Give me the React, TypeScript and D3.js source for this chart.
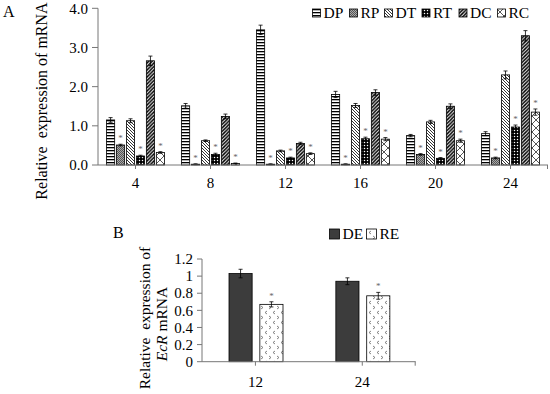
import * as d3 from "d3";

// Panel A data
const hours = ["4", "8", "12", "16", "20", "24"];
const seriesA = ["DP", "RP", "DT", "RT", "DC", "RC"];
const dpValues = [1.15, 1.51, 3.45, 1.8, 0.75, 0.8];
const rpValues = [0.51, 0.02, 0.02, 0.02, 0.27, 0.18];
const dtValues = [1.13, 0.62, 0.36, 1.52, 1.1, 2.3];
const rtValues = [0.23, 0.27, 0.18, 0.67, 0.17, 0.97];
const dcValues = [2.66, 1.24, 0.55, 1.85, 1.5, 3.3];
const rcValues = [0.32, 0.04, 0.29, 0.66, 0.62, 1.35];
const dpErr = [0.06, 0.06, 0.12, 0.08, 0.03, 0.05];
const rpErr = [0.02, 0.01, 0.01, 0.01, 0.02, 0.02];
const dtErr = [0.05, 0.02, 0.02, 0.05, 0.04, 0.1];
const rtErr = [0.02, 0.03, 0.02, 0.04, 0.02, 0.05];
const dcErr = [0.12, 0.06, 0.03, 0.07, 0.06, 0.13];
const rcErr = [0.02, 0.01, 0.02, 0.04, 0.04, 0.08];
const starredA = ["RP", "RT", "RC"];
const yTicksA = [0, 1, 2, 3, 4];

// Panel B data
const hoursB = ["12", "24"];
const seriesB = ["DE", "RE"];
const deValues = [1.03, 0.94];
const reValues = [0.67, 0.77];
const deErr = [0.05, 0.04];
const reErr = [0.03, 0.04];
const starredB = ["RE"];
const yTicksB = [0, 0.2, 0.4, 0.6, 0.8, 1, 1.2];

const valuesA: Record<string, number[]> = {
  DP: dpValues, RP: rpValues, DT: dtValues, RT: rtValues, DC: dcValues, RC: rcValues,
};
const errA: Record<string, number[]> = {
  DP: dpErr, RP: rpErr, DT: dtErr, RT: rtErr, DC: dcErr, RC: rcErr,
};
const valuesB: Record<string, number[]> = { DE: deValues, RE: reValues };
const errB: Record<string, number[]> = { DE: deErr, RE: reErr };

const fillOf: Record<string, string> = {
  DP: "url(#pDP)", RP: "url(#pRP)", DT: "url(#pDT)", RT: "url(#pRT)",
  DC: "url(#pDC)", RC: "url(#pRC)", DE: "#3c3c3c", RE: "url(#pRE)",
};

const font = "'Liberation Serif', 'Times New Roman', serif";
const axisColor = "#777";

function Patterns() {
  return (
    <defs>
      <pattern id="pDP" width="4" height="3" patternUnits="userSpaceOnUse">
        <rect width="4" height="3" fill="#fff" />
        <rect width="4" height="1.3" fill="#000" />
      </pattern>
      <pattern id="pRP" width="2" height="2" patternUnits="userSpaceOnUse">
        <rect width="2" height="2" fill="#a8a8a8" />
        <rect width="1" height="1" fill="#555" />
        <rect x="1" y="1" width="1" height="1" fill="#555" />
      </pattern>
      <pattern id="pDT" width="3" height="3" patternUnits="userSpaceOnUse">
        <rect width="3" height="3" fill="#fff" />
        <path d="M0,0L3,3M-1,2L1,4M2,-1L4,1" stroke="#000" strokeWidth="0.8" />
      </pattern>
      <pattern id="pRT" width="3" height="3" patternUnits="userSpaceOnUse">
        <rect width="3" height="3" fill="#000" />
        <circle cx="1.5" cy="1.5" r="0.75" fill="#fff" />
      </pattern>
      <pattern id="pDC" width="3.5" height="3.5" patternUnits="userSpaceOnUse">
        <rect width="3.5" height="3.5" fill="#fff" />
        <path d="M0,3.5L3.5,0M-1,1L1,-1M2.5,4.5L4.5,2.5" stroke="#000" strokeWidth="1.5" />
      </pattern>
      <pattern id="pRC" width="8" height="8" patternUnits="userSpaceOnUse">
        <rect width="8" height="8" fill="#fff" />
        <path d="M0,0L8,8M8,0L0,8" stroke="#444" strokeWidth="0.9" />
      </pattern>
      <pattern id="pRE" width="8" height="10" patternUnits="userSpaceOnUse">
        <rect width="8" height="10" fill="#fff" />
        <path d="M3,1L1,2.5L3,4M5,6L7,7.5L5,9" stroke="#666" strokeWidth="0.8" fill="none" />
      </pattern>
    </defs>
  );
}

function Legend({ items, x0, y, size, fontSize, widths, gap }: {
  items: string[]; x0: number; y: number; size: number; fontSize: number; widths: number[]; gap: number;
}) {
  let x = x0;
  return (
    <g>
      {items.map((s, i) => {
        const gx = x;
        x += size + 3 + widths[i] + gap;
        return (
          <g key={s}>
            <rect x={gx} y={y - size / 2} width={size} height={size} fill={fillOf[s]} stroke="#000" strokeWidth={0.8} />
            <text x={gx + size + 3} y={y} dy="0.35em" fontSize={fontSize} fontFamily={font}>{s}</text>
          </g>
        );
      })}
    </g>
  );
}

export default function App() {
  // ----- Panel A scales
  const xA = d3.scaleBand().domain(hours).range([98, 548]);
  const innerA = d3.scaleBand().domain(seriesA).range([8.5, 66.5]).paddingInner(0.18);
  const yA = d3.scaleLinear().domain([0, 4]).range([165, 8.3]);

  // ----- Panel B scales
  const xB = d3.scaleBand().domain(hoursB).range([202, 415.7]);
  const innerB = d3.scaleBand().domain(seriesB).range([27, 81]).paddingInner(0.25);
  const yB = d3.scaleLinear().domain([0, 1.2]).range([361.7, 259]);

  const bars = (
    cats: string[], series: string[], vals: Record<string, number[]>, errs: Record<string, number[]>,
    x: d3.ScaleBand<string>, inner: d3.ScaleBand<string>, y: d3.ScaleLinear<number, number>, starred: string[],
  ) =>
    cats.map((c, ci) =>
      series.map((s) => {
        const v = vals[s][ci];
        const e = errs[s][ci];
        const bx = x(c)! + inner(s)!;
        const bw = inner.bandwidth();
        const cx = bx + bw / 2;
        const top = y(v);
        const hi = y(v + e);
        const lo = y(Math.max(0, v - e));
        return (
          <g key={c + s}>
            <rect x={bx} y={top} width={bw} height={y(0) - top} fill={fillOf[s]} stroke="#000" strokeWidth={0.8} />
            <path d={`M${cx},${lo}V${hi}M${cx - 2},${hi}H${cx + 2}M${cx - 2},${lo}H${cx + 2}`} stroke="#000" strokeWidth={0.8} />
            {starred.includes(s) && (
              <text x={cx} y={hi - 3} textAnchor="middle" fontSize={9} fill="#666" fontFamily={font}>*</text>
            )}
          </g>
        );
      })
    );

  return (
    <svg width={550} height={394} style={{ position: "absolute", left: 0, top: 0, background: "#fff" }} fontFamily={font}>
      <Patterns />
      {/* ===== Panel A ===== */}
      <text x={3} y={17} fontSize={16}>A</text>
      <text transform="translate(47,101) rotate(-90)" textAnchor="middle" fontSize={16}>
        Relative{"\u00a0 "}expression of mRNA
      </text>
      {yTicksA.map((t) => (
        <g key={t}>
          <line x1={92} x2={98} y1={yA(t)} y2={yA(t)} stroke={axisColor} />
          <text x={88} y={yA(t)} dy="0.35em" textAnchor="end" fontSize={15}>{t.toFixed(1)}</text>
        </g>
      ))}
      {bars(hours, seriesA, valuesA, errA, xA, innerA, yA, starredA)}
      <line x1={98} x2={98} y1={yA(4)} y2={yA(0)} stroke={axisColor} />
      <line x1={98} x2={548} y1={yA(0)} y2={yA(0)} stroke={axisColor} />
      {hours.map((h) => (
        <g key={h}>
          <line x1={xA(h)! + xA.bandwidth() / 2} x2={xA(h)! + xA.bandwidth() / 2} y1={yA(0)} y2={yA(0) + 4} stroke={axisColor} />
          <text x={xA(h)! + xA.bandwidth() / 2} y={188} textAnchor="middle" fontSize={15}>{h}</text>
        </g>
      ))}
      <line x1={547.5} x2={547.5} y1={yA(0)} y2={yA(0) + 4} stroke={axisColor} />
      <Legend items={seriesA} x0={312.5} y={13} size={8} fontSize={15.5} widths={[20, 18, 20.5, 20, 21.5, 20.5]} gap={6} />

      {/* ===== Panel B ===== */}
      <text x={113} y={238} fontSize={16}>B</text>
      <text transform="translate(150,318) rotate(-90)" textAnchor="middle" fontSize={15.5}>
        Relative{"\u00a0 "}expression of
      </text>
      <text transform="translate(167,324) rotate(-90)" textAnchor="middle" fontSize={15.5}>
        <tspan fontStyle="italic">EcR</tspan> mRNA
      </text>
      {yTicksB.map((t) => (
        <g key={t}>
          <line x1={197} x2={202} y1={yB(t)} y2={yB(t)} stroke={axisColor} />
          <text x={193} y={yB(t)} dy="0.35em" textAnchor="end" fontSize={15}>{String(t)}</text>
        </g>
      ))}
      {bars(hoursB, seriesB, valuesB, errB, xB, innerB, yB, starredB)}
      <line x1={202} x2={202} y1={yB(1.2)} y2={yB(0)} stroke={axisColor} />
      <line x1={202} x2={415.7} y1={yB(0)} y2={yB(0)} stroke={axisColor} />
      {hoursB.map((h) => (
        <g key={h}>
          <line x1={xB(h)! + xB.bandwidth() / 2} x2={xB(h)! + xB.bandwidth() / 2} y1={yB(0)} y2={yB(0) + 4} stroke={axisColor} />
          <text x={xB(h)! + xB.bandwidth() / 2} y={387} textAnchor="middle" fontSize={15}>{h}</text>
        </g>
      ))}
      <line x1={415.2} x2={415.2} y1={yB(0)} y2={yB(0) + 4} stroke={axisColor} />
      <Legend items={seriesB} x0={329.5} y={234} size={10} fontSize={15.5} widths={[21, 20]} gap={3} />
    </svg>
  );
}
